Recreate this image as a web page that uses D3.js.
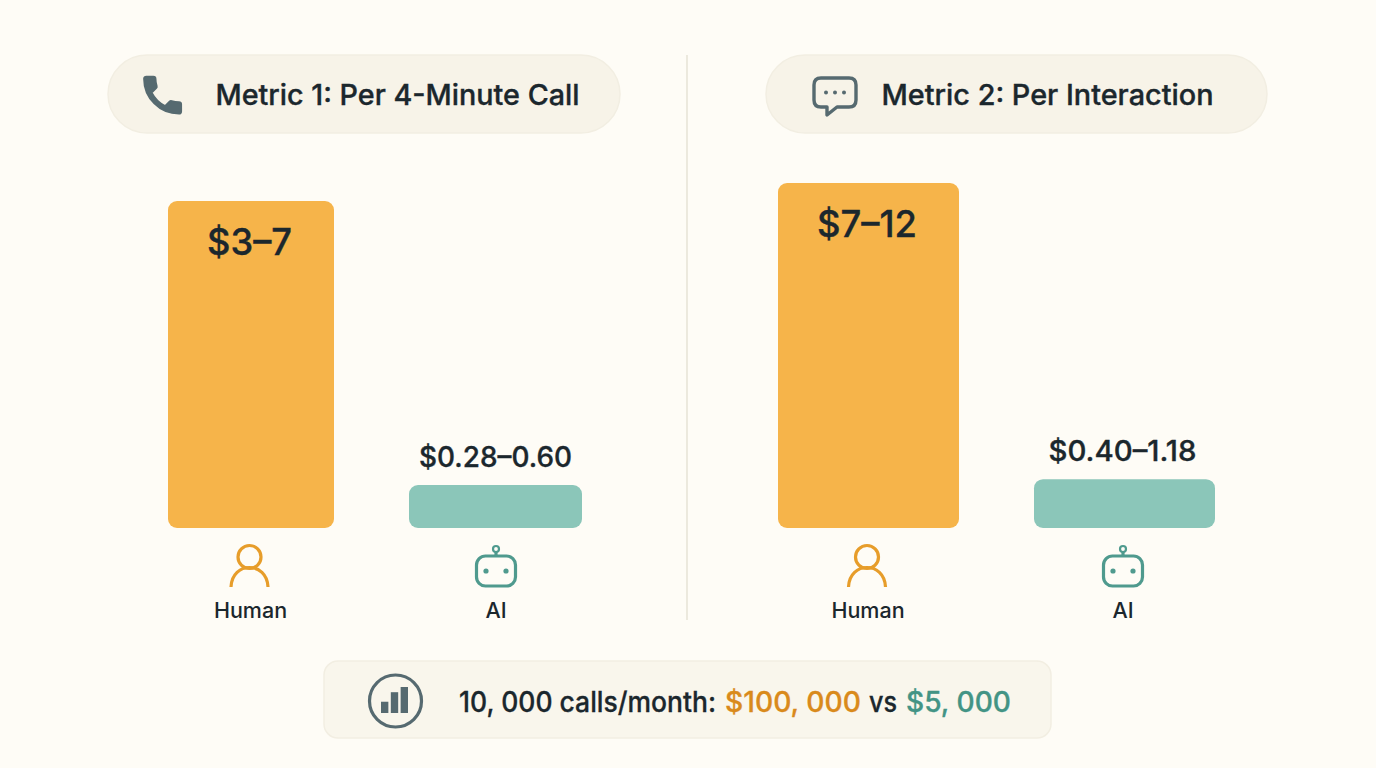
<!DOCTYPE html>
<html>
<head>
<meta charset="utf-8">
<script src="https://cdn.jsdelivr.net/npm/d3@7"></script>
<style>
  html, body { margin: 0; padding: 0; background: #fefcf6; }
  svg { display: block; }
  text { font-family: Inter, "Noto Sans", sans-serif; fill: #1b272d; font-weight: 500; }
  .heavy { stroke: #1b272d; stroke-width: 0.35px; }
</style>
</head>
<body>
<svg id="chart" width="1376" height="768"></svg>
<script>
// values
const categories = ["Human", "AI"];
const metric1Labels = ["$3–7", "$0.28–0.60"];
const metric2Labels = ["$7–12", "$0.40–1.18"];
// the bars are not to one scale with their labels, so these are the drawn
// heights expressed in dollars on each panel's own axis
const metric1Heights = [7, 0.92];
const metric2Heights = [12, 1.7];
const metric1Title = "Metric 1: Per 4-Minute Call";
const metric2Title = "Metric 2: Per Interaction";
const summaryParts = ["10, 000 calls/month:", "$100, 000", "vs", "$5, 000"];
const summaryBars = [1.3, 2.4, 3];

const ORANGE = "#f6b44a", TEAL = "#8bc6b9";
const ORANGE_DK = "#e79d2a", TEAL_DK = "#4f9a8e", SLATE = "#566a70";
const PILL = "#f7f3e8", PILL_LINE = "#f2eee2";

const svg = d3.select("#chart");
const baseY = 528;

function pill(x, y, w, h, r, fill){
  svg.append("rect")
    .attr("x", x).attr("y", y).attr("width", w).attr("height", h)
    .attr("rx", r).attr("ry", r)
    .attr("fill", fill).attr("stroke", PILL_LINE).attr("stroke-width", 1.5);
}

function human_icon(cx){
  var g = svg.append("g").attr("transform", "translate(" + cx + ",0)")
    .attr("fill", "none").attr("stroke", ORANGE_DK).attr("stroke-width", 3.2);
  g.append("circle").attr("cx", 0).attr("cy", 557).attr("r", 11.5);
  g.append("path").attr("d", "M-18.5,587 C-17.5,561 17.5,561 18.5,587");
}

function robot_icon(cx){
  var g = svg.append("g").attr("transform", "translate(" + cx + ",0)")
    .attr("fill", "none").attr("stroke", TEAL_DK).attr("stroke-width", 3.2);
  g.append("rect").attr("x", -19.5).attr("y", 556).attr("width", 39).attr("height", 30).attr("rx", 9);
  g.append("line").attr("x1", 0).attr("x2", 0).attr("y1", 552).attr("y2", 556);
  g.append("circle").attr("cx", 0).attr("cy", 549).attr("r", 3).attr("stroke-width", 2.2);
  g.selectAll(".eye").data([-10, 10]).enter().append("circle")
    .attr("class", "eye")
    .attr("cx", d => d).attr("cy", 571).attr("r", 2.6)
    .attr("fill", TEAL_DK).attr("stroke", "none");
}

function draw_panel(opts){
  var x = d3.scalePoint().domain(categories).range(opts.centers);
  var y = d3.scaleLinear().domain([0, opts.heights[0]]).range([baseY, opts.top]);
  var colors = d3.scaleOrdinal().domain(categories).range([ORANGE, TEAL]);
  categories.forEach(function(c, i){
    svg.append("rect")
      .attr("x", x(c) - opts.widths[i] / 2)
      .attr("y", y(opts.heights[i]))
      .attr("width", opts.widths[i])
      .attr("height", baseY - y(opts.heights[i]))
      .attr("rx", 9).attr("ry", 9)
      .attr("fill", colors(c));
    svg.append("text")
      .attr("class", "heavy")
      .attr("x", x(c) + (i == 0 ? -1.5 : opts.shift - 0.5))
      .attr("y", i == 0 ? y(opts.heights[i]) + 54 : y(opts.heights[i]) - 18)
      .attr("text-anchor", "middle")
      .attr("font-size", i == 0 ? 37 : 28.5)
      .attr("textLength", opts.labelW[i]).attr("lengthAdjust", "spacingAndGlyphs")
      .text(opts.labels[i]);
    svg.append("text")
      .attr("x", x(c) + (i == 0 ? -0.5 : opts.shift))
      .attr("y", 618)
      .attr("text-anchor", "middle")
      .attr("font-size", 21.5)
      .text(c);
  });
  human_icon(x(categories[0]) - 1.5);
  robot_icon(x(categories[1]) + opts.shift);
}

// background pieces
svg.append("line")
  .attr("x1", 687).attr("x2", 687).attr("y1", 55).attr("y2", 620)
  .attr("stroke", "#e8e4d8").attr("stroke-width", 1.6);
pill(108, 55, 512, 78, 39, PILL);
pill(766, 55, 501, 78, 39, PILL);
pill(324, 661, 727, 77, 14, "#f9f6ec");

// header text and icons
svg.append("text").attr("class", "heavy").attr("x", 215.5).attr("y", 105)
  .attr("font-size", 28.6)
  .attr("textLength", 364).attr("lengthAdjust", "spacingAndGlyphs")
  .text(metric1Title);
svg.append("text").attr("class", "heavy").attr("x", 881.5).attr("y", 105)
  .attr("font-size", 28.6)
  .attr("textLength", 332).attr("lengthAdjust", "spacingAndGlyphs")
  .text(metric2Title);

svg.append("path")
  .attr("transform", "translate(138,70.5) scale(2.05)")
  .attr("fill", SLATE).attr("stroke", SLATE).attr("stroke-width", 1).attr("stroke-linejoin", "round")
  .attr("d", "M6.62 10.79c1.44 2.83 3.76 5.14 6.59 6.59l2.2-2.2c.27-.27.67-.36 1.02-.24 1.12.37 2.33.57 3.57.57.55 0 1 .45 1 1V20c0 .55-.45 1-1 1-9.39 0-17-7.61-17-17 0-.55.45-1 1-1h3.5c.55 0 1 .45 1 1 0 1.25.2 2.45.57 3.57.11.35.03.74-.25 1.02l-2.2 2.2z");

var chat = svg.append("g").attr("fill", "none").attr("stroke", SLATE).attr("stroke-width", 3.4);
chat.append("path")
  .attr("stroke-linejoin", "round")
  .attr("d", "M821,78 H849 Q856,78 856,85 V100 Q856,107 849,107 H837 L827,115 V107 H821 Q814,107 814,100 V85 Q814,78 821,78 Z");
chat.selectAll(".dot").data([826, 835, 844]).enter().append("circle")
  .attr("class", "dot")
  .attr("cx", d => d).attr("cy", 92.5).attr("r", 2)
  .attr("fill", SLATE).attr("stroke", "none");

draw_panel({centers: [251, 495.5], widths: [166, 173], top: 201, shift: 0.5, labelW: [85, 153],
  heights: metric1Heights, labels: metric1Labels});
draw_panel({centers: [868.5, 1124.5], widths: [181, 181], top: 183, shift: -1.5, labelW: [100, 148],
  heights: metric2Heights, labels: metric2Labels});

// summary strip
svg.append("circle").attr("cx", 395.5).attr("cy", 701).attr("r", 26)
  .attr("fill", "none").attr("stroke", SLATE).attr("stroke-width", 3.2);
var sx = d3.scaleBand().domain(summaryBars).range([381, 408]).paddingInner(0.25);
var sy = d3.scaleLinear().domain([0, 3]).range([713, 687]);
svg.selectAll(".sbar").data(summaryBars).enter().append("rect")
  .attr("class", "sbar")
  .attr("x", d => sx(d)).attr("y", d => sy(d))
  .attr("width", sx.bandwidth()).attr("height", d => 713 - sy(d))
  .attr("fill", SLATE);

var summaryFills = ["#1b272d", "#d98a1c", "#1b272d", "#439485"];
var summaryX = [459, 725, 869, 906];
var summaryW = [257, 136, 28, 105];
summaryParts.forEach(function(p, i){
  svg.append("text")
    .attr("x", summaryX[i]).attr("y", 712)
    .attr("font-size", 28)
    .attr("textLength", summaryW[i]).attr("lengthAdjust", "spacingAndGlyphs")
    .style("fill", summaryFills[i])
    .style("stroke", summaryFills[i]).style("stroke-width", "0.3px")
    .text(p);
});
</script>
</body>
</html>
